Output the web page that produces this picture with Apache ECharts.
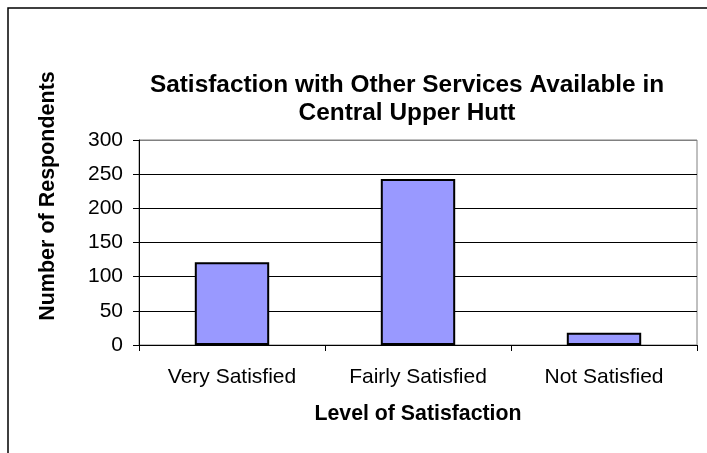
<!DOCTYPE html>
<html>
<head>
<meta charset="utf-8">
<script src="https://cdn.jsdelivr.net/npm/echarts@6/dist/echarts.min.js"></script>
<style>
  html, body { margin: 0; padding: 0; background: #fff; }
  #chart { width: 707px; height: 453px; }
</style>
</head>
<body>
<div id="chart"></div>
<script>
const categories = ['Very Satisfied', 'Fairly Satisfied', 'Not Satisfied']
const respondents = [121, 243, 18]
const titleLines = ['Satisfaction with Other Services Available in', 'Central Upper Hutt']

const FONT = '"Liberation Sans", Arial, sans-serif'

const chart = echarts.init(document.getElementById('chart'))
chart.setOption({
  animation: false,
  textStyle: { fontFamily: FONT },
  title: {
    text: titleLines.join('\n'),
    left: 402,
    top: 66,
    textAlign: 'center',
    textStyle: { fontSize: 24.4, fontWeight: 'bold', color: '#000', lineHeight: 28, fontFamily: FONT },
  },
  grid: {
    left: 139, right: 10, top: 140, bottom: 108,
    show: true, borderColor: '#808080', borderWidth: 1, backgroundColor: '#fff',
  },
  graphic: [
    {
      type: 'rect',
      shape: { x: 8, y: 8, width: 900, height: 700 },
      style: { fill: 'none', stroke: '#000', lineWidth: 1.5 },
      silent: true,
    },
    {
      type: 'text',
      x: 48, y: 196,
      rotation: Math.PI / 2,
      style: {
        text: 'Number of Respondents',
        font: 'bold 21.5px ' + FONT,
        fill: '#000',
        align: 'center',
        verticalAlign: 'middle',
      },
    },
  ],
  xAxis: {
    type: 'category',
    data: categories,
    name: 'Level of Satisfaction',
    nameLocation: 'middle',
    nameGap: 59,
    nameTextStyle: { fontSize: 21.3, fontWeight: 'bold', color: '#000' },
    axisLine: { lineStyle: { color: '#000', width: 1 } },
    axisTick: { show: true, alignWithLabel: false, length: 6, lineStyle: { color: '#000' } },
    axisLabel: { fontSize: 21, color: '#000', margin: 22 },
  },
  yAxis: {
    type: 'value',
    min: 0, max: 300, interval: 50,
    axisLine: { show: true, lineStyle: { color: '#000', width: 1 } },
    axisTick: { show: true, length: 6, lineStyle: { color: '#000' } },
    axisLabel: { fontSize: 21, color: '#000', margin: 16 },
    splitLine: {
      show: true,
      lineStyle: { color: ['#000', '#000', '#000', '#000', '#000', '#000', '#808080'], width: 1 },
    },
  },
  series: [
    {
      type: 'bar',
      data: respondents,
      barWidth: '40%',
      itemStyle: { color: '#9999ff', borderColor: '#000', borderWidth: 2 },
    },
  ],
})
</script>
</body>
</html>
